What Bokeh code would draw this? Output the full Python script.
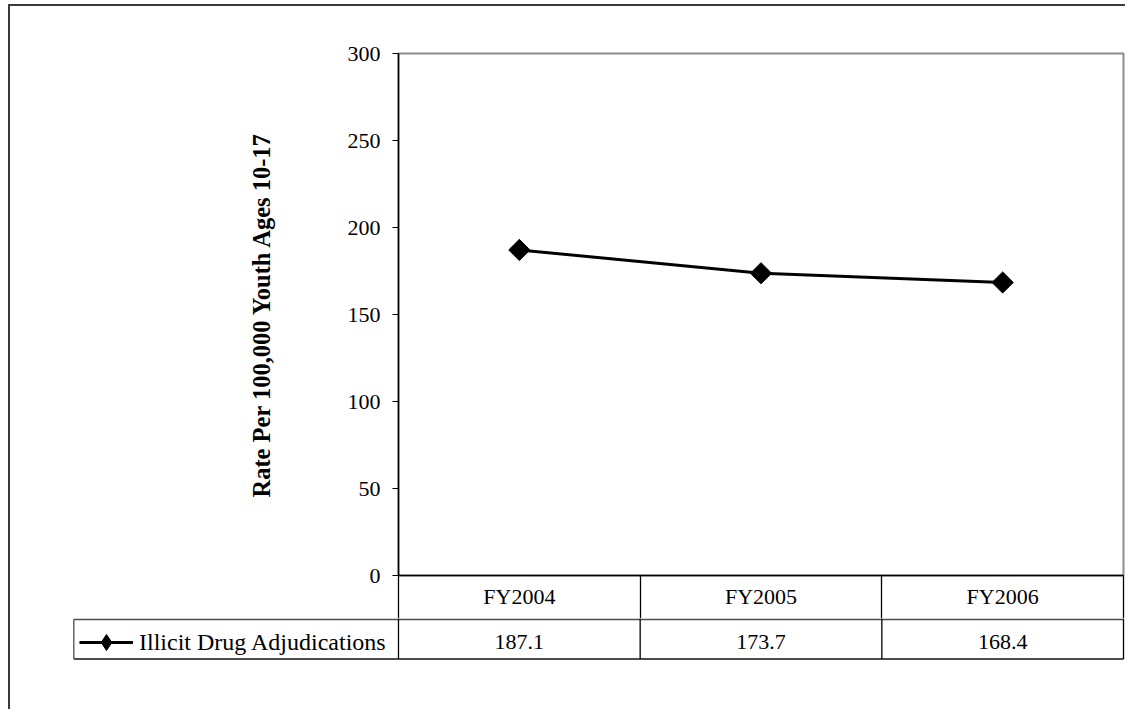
import math
from bokeh.plotting import figure
from bokeh.models import ColumnDataSource, Range1d, FixedTicker, Legend, LegendItem
from bokeh.layouts import column
from bokeh.embed import file_html
from bokeh.resources import INLINE
from bokeh.core.properties import value

# ---------------- data ----------------
categories = ["FY2004", "FY2005", "FY2006"]
series_name = "Illicit Drug Adjudications"
rates = [187.1, 173.7, 168.4]
rate_labels = ["187.1", "173.7", "168.4"]
y_ticks = [0, 50, 100, 150, 200, 250, 300]
y_label = "Rate Per 100,000 Youth Ages 10-17"

# ---------------- style / layout constants ----------------
FONT = "Liberation Serif"
n_cat = len(categories)
cat_x = [i + 0.5 for i in range(n_cat)]       # category centres
cat_edges = list(range(n_cat + 1))            # data-table cell boundaries
Y_MAX = 300
PLOT_W = 725
PLOT_H = 522
ROW1_H = 43
cell_px = PLOT_W / n_cat
GRAY = "#8c8c8c"

# ---------------- chart + category row ----------------
top = figure(frame_width=PLOT_W, frame_height=PLOT_H,
             min_border_left=388, min_border_right=2,
             min_border_top=47, min_border_bottom=ROW1_H,
             x_range=Range1d(0, n_cat), y_range=Range1d(0, Y_MAX),
             toolbar_location=None, output_backend="svg",
             background_fill_color="white", border_fill_color="white",
             outline_line_color=GRAY, outline_line_width=2)
top.frame_align = False
top.grid.visible = False

src = ColumnDataSource(dict(x=cat_x, y=rates))
top.line("x", "y", source=src, line_color="black", line_width=3)
top.scatter("x", "y", source=src, marker="square", angle=math.pi / 4, size=15,
            fill_color="black", line_color="black")

yax = top.yaxis[0]
yax.ticker = FixedTicker(ticks=y_ticks)
yax.minor_tick_line_color = None
yax.major_tick_in = 0
yax.major_tick_out = 6
yax.major_tick_line_color = "black"
yax.axis_line_color = "black"
yax.axis_line_width = 1.5
yax.major_label_standoff = 12
yax.major_label_text_font = FONT
yax.major_label_text_font_size = "22px"
yax.major_label_text_color = "black"
yax.axis_label = y_label
yax.axis_label_text_font = FONT
yax.axis_label_text_font_size = "24.5px"
yax.axis_label_text_font_style = "bold"
yax.axis_label_text_color = "black"
yax.axis_label_standoff = 70

xax = top.xaxis[0]
xax.ticker = FixedTicker(ticks=cat_x, minor_ticks=cat_edges)
xax.major_label_overrides = dict(zip(cat_x, categories))
xax.major_tick_in = 0
xax.major_tick_out = 0
xax.major_tick_line_color = None
xax.minor_tick_in = 0
xax.minor_tick_out = ROW1_H
xax.minor_tick_line_color = "black"
xax.minor_tick_line_width = 1.3
xax.axis_line_color = "black"
xax.axis_line_width = 1.5
xax.major_label_standoff = 8 - ROW1_H     # labels sit inside the category row
xax.major_label_text_font = FONT
xax.major_label_text_font_size = "22px"
xax.major_label_text_color = "black"

# ---------------- value row with legend key ----------------
BOT_H = 91
x0 = (72 - 398) / cell_px
x1 = (1125 - 398) / cell_px
leg_left = (73.3 - 398) / cell_px

bot = figure(frame_width=1053, frame_height=BOT_H,
             min_border_left=62, min_border_right=0,
             min_border_top=0, min_border_bottom=0,
             x_range=Range1d(x0, x1), y_range=Range1d(-BOT_H, 0),
             x_axis_location=None, y_axis_location=None,
             toolbar_location=None, output_backend="svg",
             background_fill_color="white", border_fill_color="white",
             outline_line_color=None)
bot.frame_align = False
bot.grid.visible = False

r_top, r_bot = -0.9, -40.5
bot.segment(x0=[leg_left, leg_left], y0=[r_top, r_bot], x1=[n_cat, n_cat], y1=[r_top, r_bot],
            line_color="#4d4d4d", line_width=1.8)
bot.segment(x0=cat_edges, y0=[0] * len(cat_edges), x1=cat_edges, y1=[r_bot] * len(cat_edges),
            line_color="black", line_width=1.3)
bot.segment(x0=[leg_left], y0=[r_top], x1=[leg_left], y1=[r_bot],
            line_color="#4d4d4d", line_width=1.3)

bot.text(x=cat_x, y=[-23] * n_cat, text=rate_labels,
         text_font=value(FONT), text_font_size="22px", text_color="black",
         text_align="center", text_baseline="middle")

# legend key renderers (same series; they fall outside this table's range)
lr = bot.line("x", "y", source=src, line_color="black", line_width=3)
sr = bot.scatter("x", "y", source=src, marker="diamond",
                 fill_color="black", line_color="black")
leg = Legend(items=[LegendItem(label=series_name, renderers=[lr, sr])],
             location=(7, 47), padding=0, margin=0, spacing=0,
             border_line_color=None, background_fill_alpha=0,
             glyph_width=54, glyph_height=40, label_height=26, label_standoff=6,
             label_text_font=FONT, label_text_font_size="24px", label_text_color="black")
bot.add_layout(leg)

layout = column(top, bot, spacing=0,
                styles={"margin": "4px 0px 0px 8px",
                        "border-left": "2px solid #3a3a3a",
                        "border-top": "2px solid #3a3a3a"})

open("out.html", "w").write(file_html(layout, INLINE))
